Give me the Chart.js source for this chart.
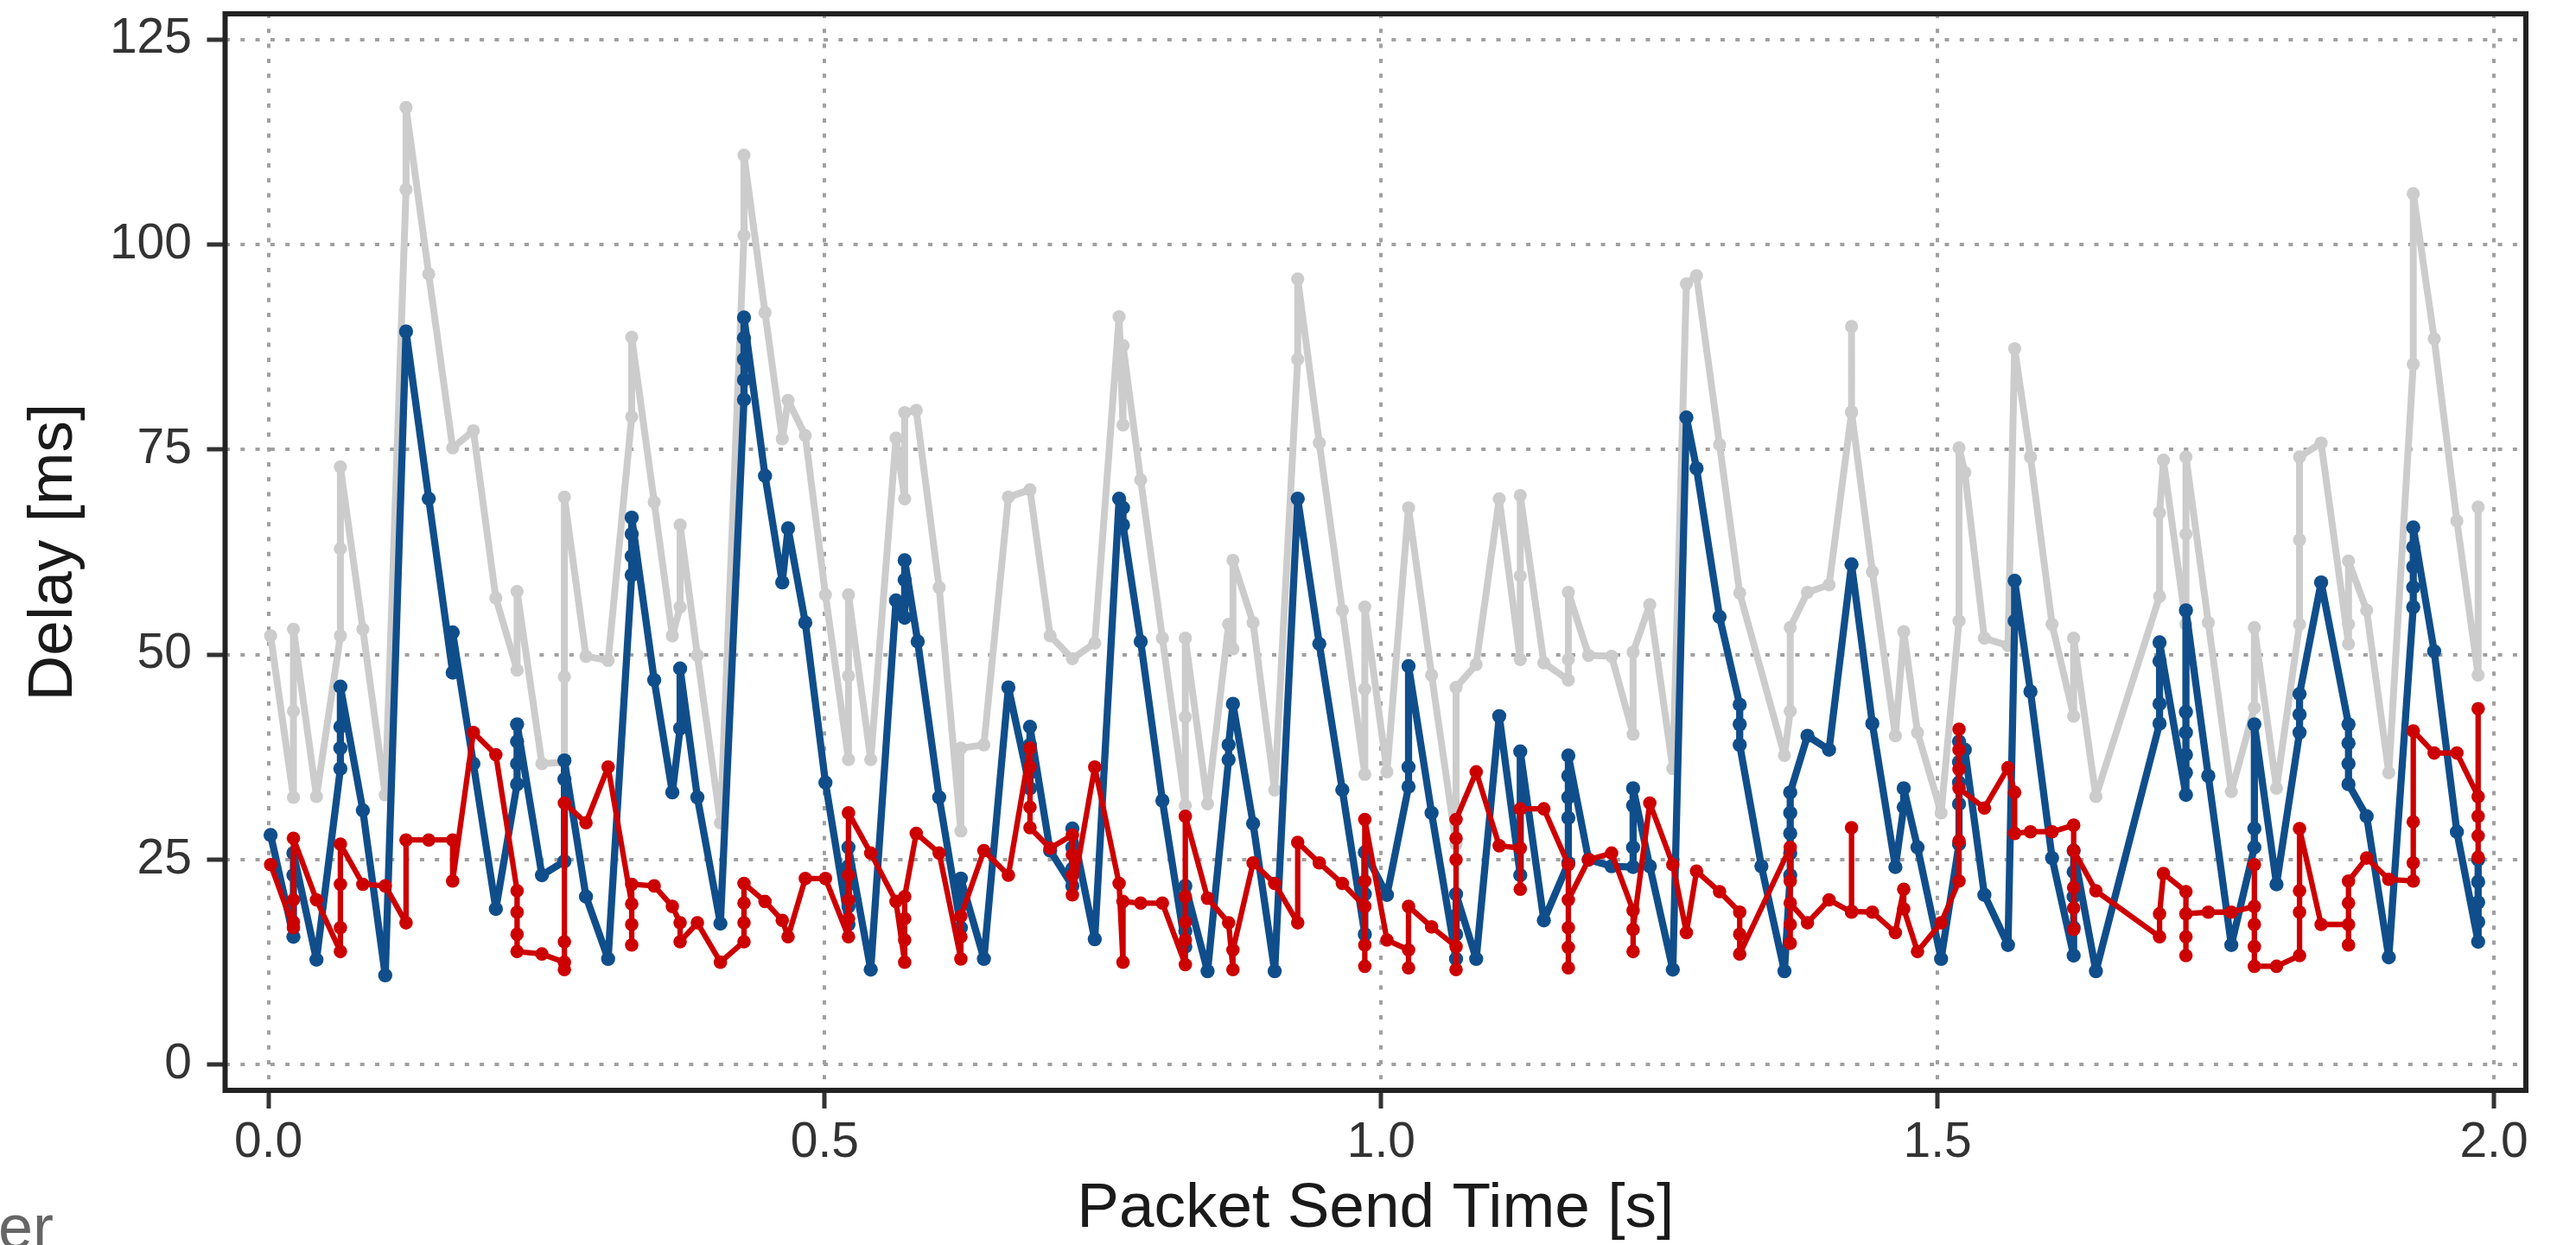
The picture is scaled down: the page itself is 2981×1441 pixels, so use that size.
<!DOCTYPE html>
<html><head><meta charset="utf-8">
<script src="https://cdn.jsdelivr.net/npm/chart.js@4/dist/chart.umd.min.js"></script>
<style>html,body{margin:0;padding:0;background:#fff;overflow:hidden}canvas{display:block}</style>
</head><body>
<canvas id="c" width="2981" height="1441"></canvas>
<script>
// ---- data (packet send time [s] -> delays [ms] of the packets sent at that time) ----
const xTicks = [0, 0.5, 1.0, 1.5, 2.0];
const yTicks = [0, 25, 50, 75, 100, 125];

const grayTime = [0.002,0.0225,0.0432,0.0647,0.0849,0.105,0.1237,0.1441,0.1656,0.1842,0.2044,0.2235,0.2458,0.266,0.2854,0.3053,0.3265,0.3467,0.363,0.37,0.3855,0.4062,0.4274,0.4463,0.4618,0.467,0.4825,0.5006,0.5213,0.5413,0.564,0.5718,0.5822,0.6028,0.6223,0.643,0.665,0.6844,0.7025,0.7225,0.7426,0.7645,0.768,0.7839,0.8034,0.824,0.844,0.8629,0.8668,0.8849,0.9043,0.925,0.9444,0.9651,0.9853,1.0052,1.0246,1.0453,1.0673,1.0854,1.1061,1.125,1.1462,1.1682,1.1864,1.2071,1.2264,1.2414,1.2621,1.2743,1.2834,1.3041,1.3222,1.3624,1.3676,1.3831,1.4025,1.4227,1.4414,1.4621,1.4696,1.482,1.5032,1.5193,1.5245,1.5421,1.5633,1.5693,1.5835,1.6029,1.6223,1.6423,1.6995,1.703,1.7232,1.7433,1.764,1.7847,1.8046,1.8253,1.8447,1.8693,1.8856,1.9055,1.9275,1.9463,1.9667,1.9858];
const grayDelay = [[52.3],[32.6,43.1,53.1],[32.7],[52.3,62.9,72.9],[53.1],[32.9],[106.7,116.7],[96.4],[75.2],[77.3],[56.9],[48.1,57.7],[36.7],[36.9,47.3,69.2],[49.8],[49.3],[79.0,88.7],[68.6],[52.3],[55.8,65.8],[49.9],[29.5],[101.1,110.9],[91.7],[76.3],[81.0],[76.7],[57.3],[37.2,47.4,57.3],[37.2],[76.4],[69.0,79.5],[79.8],[58.2],[28.5,38.6],[39.0],[69.2],[70.1],[52.3],[49.5],[51.4],[91.2],[78.0,87.7],[71.3],[52.0],[31.6,42.4,52.0],[31.8],[53.7],[50.7,61.5],[53.9],[33.5],[86.0,95.8],[75.8],[55.4],[35.4,45.8,55.8],[35.7],[67.9],[47.5],[26.9,46.0],[48.8],[69.0],[49.4,59.6,69.4],[49.0],[46.9,49.4,57.6],[49.9],[49.8],[40.3,50.3],[56.1],[36.1],[95.2],[96.2],[75.6],[57.5],[37.7],[43.1,53.3],[57.6],[58.5],[79.5,90.0,79.6],[60.1],[40.1],[52.8],[40.5],[30.7],[54.1,75.2],[72.2],[52.0],[51.1],[87.3],[74.1],[53.7],[42.5,52.0],[32.7],[57.1,67.3],[73.7],[53.7,64.7,74.1],[53.9],[33.3],[43.5,53.3],[33.7],[53.7,64.0,74.1],[75.8],[51.3,53.7,61.4],[55.4],[35.6],[85.4,106.2],[88.5],[66.3],[47.5,68.0]];

const blueTime = [0.002,0.0225,0.0432,0.0647,0.0849,0.105,0.1237,0.1441,0.1656,0.1842,0.2044,0.2235,0.2458,0.266,0.2854,0.3053,0.3265,0.3467,0.363,0.37,0.3855,0.4062,0.4274,0.4463,0.4618,0.467,0.4825,0.5006,0.5213,0.5413,0.564,0.5718,0.5835,0.6028,0.6223,0.643,0.665,0.6844,0.7025,0.7225,0.7426,0.7645,0.768,0.7839,0.8034,0.824,0.844,0.8629,0.8668,0.8849,0.9043,0.925,0.9444,0.9651,0.9853,1.0052,1.0246,1.0453,1.0673,1.0854,1.1061,1.125,1.1462,1.1682,1.1864,1.2071,1.2264,1.2414,1.2621,1.2743,1.2834,1.3041,1.3222,1.3417,1.3624,1.3676,1.3831,1.4025,1.4227,1.4414,1.4621,1.4696,1.482,1.5032,1.5193,1.5245,1.5421,1.5633,1.5693,1.5835,1.6029,1.6223,1.6423,1.6995,1.7232,1.7433,1.764,1.7847,1.8046,1.8253,1.8447,1.8693,1.8856,1.9055,1.9275,1.9463,1.9667,1.9858];
const blueDelay = [[28.0],[15.6,23.1,25.8],[12.8],[36.1,38.6,41.2,46.1],[31.0],[10.9],[89.4],[69.0],[47.8,52.7],[36.7],[19.0],[34.2,36.7,39.4,41.5],[23.1],[24.8,34.8,37.1],[20.5],[12.9],[59.7,62.0,64.7,66.7],[46.9],[33.2],[41.0,48.3],[32.6],[17.2],[81.1,83.5,86.0,88.6,91.1],[71.8],[58.8],[65.4],[53.9],[34.4],[17.1,19.3,22.0,24.2,26.5],[11.6],[56.6],[54.5,59.1,61.5],[51.6],[32.6],[16.7,19.7,22.7],[12.9],[46.0],[33.7,35.6,39.0,41.2],[26.1],[21.8,23.9,26.5,28.8],[15.3],[69.0],[67.9,65.8],[51.6],[32.2],[14.4,16.3,18.4,20.1,21.8],[11.4],[37.2,39.0],[44.0],[29.4],[11.4],[69.0],[51.3],[33.5],[15.9,20.8,25.9],[20.7],[33.9,36.3,48.6],[30.7],[12.9,15.9,18.2,20.8],[12.9],[42.5],[23.1,38.2],[17.6],[24.6,30.1,32.6,35.2,37.7],[25.0],[24.2],[24.1,26.5,31.6,33.7],[24.2],[11.6],[78.9],[72.7],[54.6],[43.9,41.5,39.0],[24.2],[11.4],[23.1,25.8,28.2,30.7,33.2],[40.1],[38.4],[61.0],[41.6],[24.1],[31.4,33.7],[26.5],[12.9],[26.9,31.8,34.4,36.9,39.4],[38.4],[20.7],[14.6],[54.1,59.0],[45.5],[25.2],[13.3,16.7,20.5,23.5,26.1],[11.4],[41.6,44.0,49.2,51.5],[32.9,35.6,37.8,40.5,43.0,55.4],[35.2],[14.6],[26.5,28.8,41.5],[22.0],[40.5,42.7,45.2],[58.8],[41.5,39.2,36.7,34.2],[30.3],[13.1],[55.8,58.2,60.7,63.1,65.5],[50.4],[28.4],[15.0,17.4,19.8,22.3,25.0]];

const redTime = [0.002,0.0225,0.0432,0.0647,0.0849,0.105,0.1237,0.1441,0.1656,0.1842,0.2044,0.2235,0.2458,0.266,0.2854,0.3053,0.3265,0.3467,0.363,0.37,0.3855,0.4062,0.4274,0.4463,0.4618,0.467,0.4825,0.5006,0.5213,0.5413,0.564,0.5718,0.5822,0.6028,0.6223,0.643,0.665,0.6844,0.7025,0.7225,0.7426,0.7645,0.768,0.7839,0.8034,0.824,0.844,0.8629,0.8668,0.8849,0.9043,0.925,0.9444,0.9651,0.9853,1.0052,1.0246,1.0453,1.0673,1.0854,1.1061,1.125,1.1462,1.1682,1.1864,1.2071,1.2264,1.2414,1.2621,1.2743,1.2834,1.3041,1.3222,1.3676,1.3831,1.4025,1.4227,1.4414,1.4621,1.4696,1.482,1.5032,1.5193,1.5421,1.5633,1.5693,1.5835,1.6029,1.6223,1.6423,1.6995,1.703,1.7232,1.7433,1.764,1.7847,1.8046,1.8253,1.8447,1.8693,1.8856,1.9055,1.9275,1.9463,1.9667,1.9858];
const redDelay = [[24.4],[16.7,17.4,20.1,27.6],[20.1],[13.8,16.7,22.0,26.9],[22.0],[21.8],[17.3,27.4],[27.4],[27.4,22.4],[40.5],[37.8],[21.2,18.6,15.9,13.8],[13.5],[12.5,11.6,15.0,31.9],[29.5],[36.3],[19.6,14.6,17.1,22.0],[21.8],[19.3],[17.3,15.0],[17.3],[12.5],[15.0,17.3,19.7,22.1],[19.9],[17.6],[15.6],[22.7],[22.7],[15.6,17.8,20.1,23.1,30.7],[25.8],[19.9],[12.5,15.2,17.8,20.5],[28.2],[25.8],[12.9,15.6,18.1],[26.1],[23.1],[38.6,36.3,31.4,28.9],[26.4],[28.0,25.6,23.1,20.7],[36.3],[22.1],[12.5,19.9],[19.7],[19.7],[12.2,15.2,17.4,20.5,30.3],[20.3],[17.3],[11.6,14.0],[24.6],[22.1],[17.3,27.1],[24.6],[22.1],[19.3,12.0,14.6,22.4,29.9],[15.2],[14.0,11.8,19.3],[16.8],[14.4,11.6,25.0,27.6,29.9],[35.7],[26.7],[26.4,21.4,31.2],[31.2],[24.4,11.8,14.3,16.7,20.1],[25.0],[25.8],[18.8,13.8,16.5],[31.9],[24.4],[16.1],[23.6],[21.1],[18.6,15.9,13.5],[26.5,22.4,14.8,17.1,19.7],[17.3],[20.1],[18.6,28.9,18.7],[18.6],[16.1],[21.4,19.0],[13.8],[17.3],[22.4,27.3,40.9,38.4,36.0,33.7],[31.3],[36.2],[33.2,28.2],[28.4],[28.4],[29.2,16.5,19.1,21.6,26.1],[21.2],[15.6,18.4],[23.3],[21.1,13.3,15.6,18.4],[18.6],[18.6],[19.3,24.4,17.1,14.4,12.0],[12.0],[13.3,18.6,21.2,28.8],[17.1],[17.1,14.6,19.7,22.4],[25.2],[22.6],[22.4,24.6,29.6,40.7],[38.0],[38.0],[32.7,30.3,27.9,25.3,43.4]];

// ---- build point lists from the arrays ----
function build(times, delays) {
  if (times.length !== delays.length) console.error('length mismatch', times.length, delays.length);
  const pts = [];
  times.forEach((t, i) => (delays[i] || []).forEach(d => pts.push({x: t, y: d})));
  return pts;
}

const FONT = "'Liberation Sans', Arial, Helvetica, sans-serif";
const RED = '#CD0000', BLUE = '#104E8B', GRAY = '#CCCCCC';

const framePlugin = {
  id: 'frame',
  afterDatasetsDraw(chart) {
    const {ctx, chartArea: a} = chart;
    ctx.save();
    ctx.lineWidth = 6;
    ctx.strokeStyle = '#222222';
    ctx.strokeRect(a.left, a.top, a.right - a.left, a.bottom - a.top);
    ctx.restore();
  },
  afterDraw(chart) {
    const ctx = chart.ctx;
    ctx.save();
    ctx.font = '72px ' + FONT;
    ctx.fillStyle = '#666666';
    ctx.textAlign = 'right';
    ctx.textBaseline = 'alphabetic';
    ctx.fillText('er', 62, 1445);
    ctx.restore();
  }
};

function ds(label, pts, color, width, radius) {
  return {
    label, data: pts, borderColor: color, backgroundColor: color,
    borderWidth: width, borderJoinStyle: 'round', borderCapStyle: 'butt',
    pointRadius: radius, pointHoverRadius: radius, pointBorderWidth: 0,
    pointBackgroundColor: color, tension: 0, fill: false
  };
}

new Chart(document.getElementById('c').getContext('2d'), {
  type: 'line',
  data: {
    datasets: [
      ds('red', build(redTime, redDelay), RED, 6.3, 7.8),
      ds('blue', build(blueTime, blueDelay), BLUE, 8.3, 8.2),
      ds('gray', build(grayTime, grayDelay), GRAY, 8, 7.6)
    ]
  },
  options: {
    responsive: false,
    animation: false,
    devicePixelRatio: 1,
    layout: {padding: {top: 16, right: 58, bottom: 0, left: 0}},
    plugins: {legend: {display: false}, tooltip: {enabled: false}},
    scales: {
      x: {
        type: 'linear', min: -0.0389, max: 2.0287,
        afterBuildTicks: s => { s.ticks = xTicks.map(v => ({value: v})); },
        afterFit: s => { s.height = 179; s.paddingLeft = 0; s.paddingRight = 0; },
        ticks: {callback: v => Number(v).toFixed(1), font: {family: FONT, size: 57}, color: '#333333', padding: 6, maxRotation: 0, autoSkip: false},
        grid: {color: '#a0a0a0', lineWidth: 4, tickColor: '#333333', tickWidth: 5, tickLength: 21, drawTicks: true},
        border: {display: false, dash: [5, 12.3]},
        title: {display: true, text: 'Packet Send Time [s]', font: {family: FONT, size: 73, lineHeight: 1.1}, color: '#1a1a1a', padding: {top: 0, bottom: 1}}
      },
      y: {
        type: 'linear', min: -3.125, max: 128.125,
        afterBuildTicks: s => { s.ticks = yTicks.map(v => ({value: v})); },
        afterFit: s => { s.width = 260.5; s.paddingTop = 0; s.paddingBottom = 0; },
        ticks: {callback: v => String(v), font: {family: FONT, size: 57}, color: '#333333', padding: 17.5, autoSkip: false},
        grid: {color: '#a0a0a0', lineWidth: 4, tickColor: '#333333', tickWidth: 5, tickLength: 21, drawTicks: true},
        border: {display: false, dash: [5, 12.3]},
        title: {display: true, text: 'Delay [ms]', font: {family: FONT, size: 73, lineHeight: 1.1}, color: '#1a1a1a', padding: {top: 22.5, bottom: 0}}
      }
    }
  },
  plugins: [framePlugin]
});
</script>
</body></html>
